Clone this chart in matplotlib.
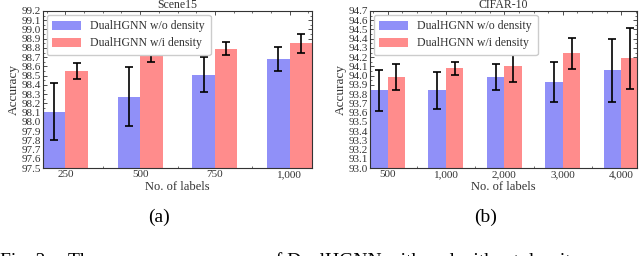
import numpy as np
import matplotlib
matplotlib.use("Agg")
import matplotlib.pyplot as plt
from matplotlib.ticker import MultipleLocator

plt.rcParams['font.family'] = ['Liberation Serif', 'DejaVu Serif']

# Scene15
scene_labels = ['250', '500', '750', '1,000']
scene_wo = [98.11, 98.27, 98.51, 98.68]
scene_wo_err = [0.31, 0.32, 0.19, 0.13]
scene_wi = [98.55, 98.71, 98.79, 98.85]
scene_wi_err = [0.09, 0.06, 0.07, 0.10]

# CIFAR-10
cifar_labels = ['500', '1,000', '2,000', '3,000', '4,000']
cifar_wo = [93.84, 93.84, 93.99, 93.93, 94.06]
cifar_wo_err = [0.22, 0.20, 0.14, 0.22, 0.34]
cifar_wi = [93.99, 94.08, 94.10, 94.24, 94.19]
cifar_wi_err = [0.14, 0.07, 0.17, 0.17, 0.33]

blue = '#9090f8'
red = '#ff8c8c'
W, H = 640, 256

fig = plt.figure(figsize=(6.4, 2.56), dpi=100)
ax1 = fig.add_axes([43 / W, (H - 168) / H, (312 - 43) / W, (168 - 11) / H])
ax2 = fig.add_axes([370 / W, (H - 168) / H, (637 - 370) / W, (168 - 11) / H])


def draw(ax, labels, wo, wo_err, wi, wi_err, ylim, title, xmax):
    x = np.arange(len(labels))
    bw = 0.3
    ax.bar(x - bw / 2, wo, bw, color=blue, label='DualHGNN w/o density', zorder=2)
    ax.bar(x + bw / 2, wi, bw, color=red, label='DualHGNN w/i density', zorder=2)
    ax.errorbar(x - bw / 2, wo, yerr=wo_err, fmt='none', ecolor='black',
                elinewidth=1.2, capsize=3, capthick=1.2, zorder=3)
    ax.errorbar(x + bw / 2, wi, yerr=wi_err, fmt='none', ecolor='black',
                elinewidth=1.2, capsize=3, capthick=1.2, zorder=3)
    ax.set_xlim(-0.3, xmax)
    ax.set_ylim(*ylim)
    ax.set_xticks(x)
    ax.set_xticklabels(labels)
    ax.yaxis.set_major_locator(MultipleLocator(0.1))
    ax.yaxis.set_minor_locator(MultipleLocator(0.05))
    ax.xaxis.set_minor_locator(MultipleLocator(0.25))
    ax.yaxis.set_major_formatter(matplotlib.ticker.FormatStrFormatter('%.1f'))
    ax.tick_params(which='both', direction='in', top=True, right=True,
                   labelsize=8, pad=1.5, colors='#333333', labelcolor='#333333')
    ax.tick_params(which='major', length=3, width=0.6)
    ax.tick_params(which='minor', length=1.5, width=0.5)
    for s in ax.spines.values():
        s.set_linewidth(0.8)
        s.set_color('#333333')
    ax.set_title(title, fontsize=8.5, pad=2, color='#333333')
    ax.set_xlabel('No. of labels', fontsize=9, labelpad=1.5, color='#333333')
    ax.set_ylabel('Accuracy', fontsize=9.5, labelpad=1, color='#333333')
    leg = ax.legend(loc='upper left', fontsize=8.5, handlelength=2.4,
                    handleheight=0.8, borderpad=0.5, labelspacing=0.4,
                    framealpha=1, edgecolor='#cccccc', fancybox=True,
                    bbox_to_anchor=(0.0, 1.0), borderaxespad=0.3)
    for t in leg.get_texts():
        t.set_color('#333333')


draw(ax1, scene_labels, scene_wo, scene_wo_err, scene_wi, scene_wi_err,
     (97.5, 99.2), 'Scene15', 3.3)
draw(ax2, cifar_labels, cifar_wo, cifar_wo_err, cifar_wi, cifar_wi_err,
     (93.0, 94.7), 'CIFAR-10', 4.27)

fig.text(159 / W, (H - 217) / H, '(a)', fontsize=14, ha='center', va='center')
fig.text(486 / W, (H - 217) / H, '(b)', fontsize=14, ha='center', va='center')

# caption, cut off by the bottom edge as in the source page
cy = -10 / H
fig.text(0, cy, 'Fig. 3.', fontsize=14, ha='left', va='baseline')
fig.text(68 / W, cy, 'The average accuracy', fontsize=14, ha='left', va='baseline')
fig.text(266 / W, cy, 'of DualHGNN with and without density', fontsize=14,
         ha='left', va='baseline')

fig.savefig('out.png', dpi=100)
